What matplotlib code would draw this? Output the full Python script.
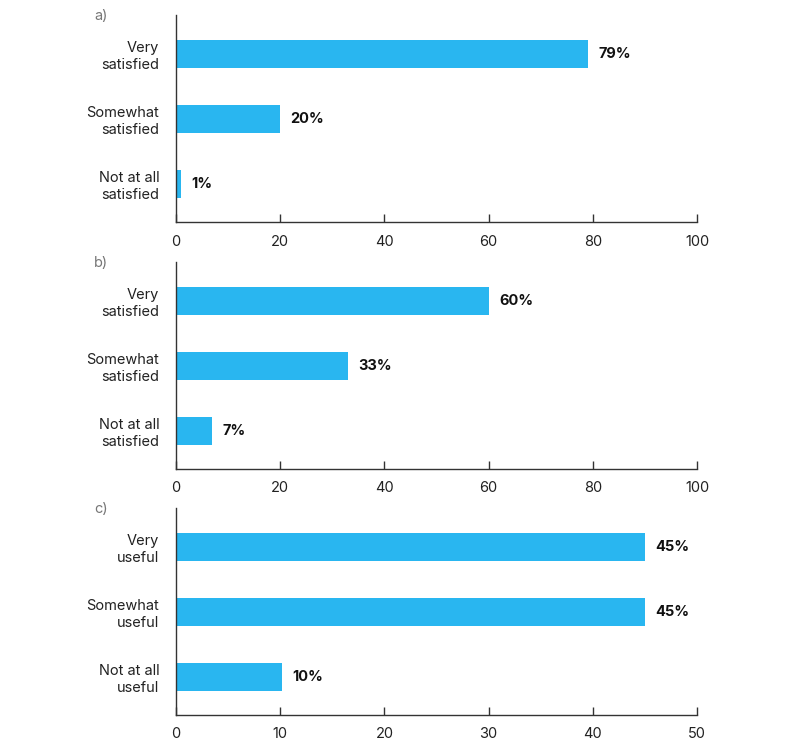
import matplotlib
matplotlib.use("Agg")
import matplotlib.pyplot as plt

plt.rcParams['font.family'] = ['Inter', 'DejaVu Sans']

labels_a = ["Very\nsatisfied", "Somewhat\nsatisfied", "Not at all\nsatisfied"]
values_a = [79, 20, 1]
labels_b = ["Very\nsatisfied", "Somewhat\nsatisfied", "Not at all\nsatisfied"]
values_b = [60, 33, 7]
labels_c = ["Very\nuseful", "Somewhat\nuseful", "Not at all\nuseful"]
values_c = [45, 45, 10.2]
xmax = [100, 100, 50]
xticks = [[0, 20, 40, 60, 80, 100], [0, 20, 40, 60, 80, 100], [0, 10, 20, 30, 40, 50]]
panel_names = ["a)", "b)", "c)"]

BAR = "#29B6F0"
AX = "#333333"

fig = plt.figure(figsize=(8, 7.53), dpi=100)
W, H = 800, 753
panels = [(labels_a, values_a), (labels_b, values_b), (labels_c, values_c)]
bottoms_px = [222, 469, 715]
for i, (labs, vals) in enumerate(panels):
    bot = bottoms_px[i]
    ax = fig.add_axes([176 / W, (H - bot) / H, 521 / W, 207 / H])
    ypos = [2, 1, 0]
    ax.barh(ypos, vals, height=0.42, color=BAR)
    ax.set_xlim(0, xmax[i])
    ax.set_ylim(-0.585, 2.6)
    ax.set_yticks(ypos)
    ax.set_yticklabels(labs, fontsize=10.5, color="#222222", linespacing=1.25)
    ax.tick_params(axis='y', length=0, pad=12)
    ax.set_xticks(xticks[i])
    ax.set_xticklabels([str(t) for t in xticks[i]], fontsize=10.5, color="#222222")
    ax.tick_params(axis='x', direction='in', length=6, width=1, color=AX, pad=9)
    for s in ['top', 'right']:
        ax.spines[s].set_visible(False)
    for s in ['left', 'bottom']:
        ax.spines[s].set_color(AX)
        ax.spines[s].set_linewidth(1)
    for y, v in zip(ypos, vals):
        ax.annotate(f"{round(v)}%", xy=(v, y), xytext=(7.5, 0), textcoords='offset points',
                    va='center', ha='left', fontsize=10.5, fontweight='bold', color="#111111")
    fig.text(94 / W, (H - (bot - 206)) / H, panel_names[i], fontsize=10.5, color="#777777",
             ha='left', va='center')

fig.savefig("out.png", dpi=100)
